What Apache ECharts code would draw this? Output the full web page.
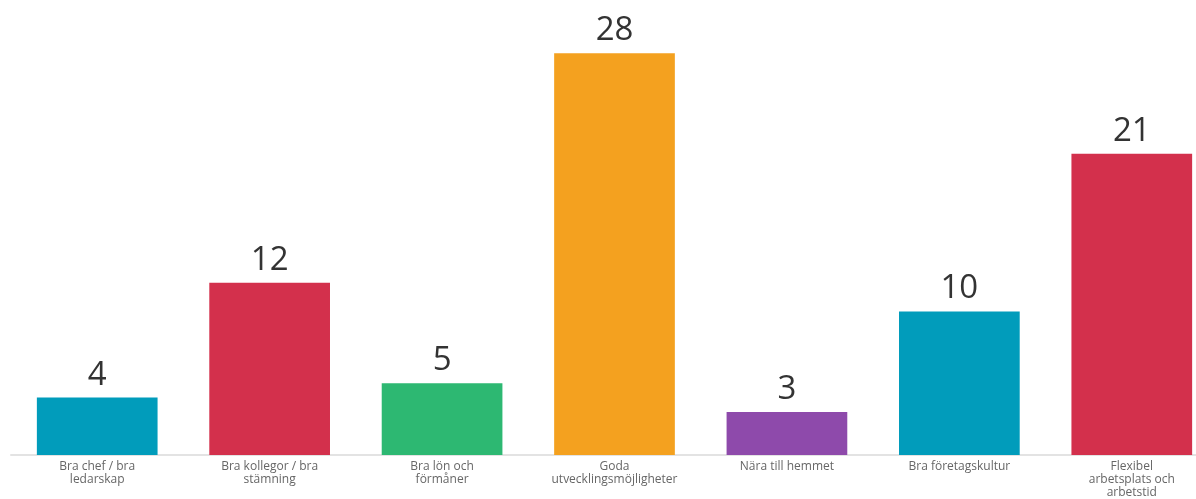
<!DOCTYPE html>
<html><head><meta charset="utf-8">
<script src="https://cdn.jsdelivr.net/npm/echarts@6/dist/echarts.min.js"></script>
<style>html,body{margin:0;padding:0;background:#fff;overflow:hidden}#c{width:1218px;height:499px}</style>
</head><body><div id="c"></div>
<script>
const categories = ["Bra chef / bra\nledarskap","Bra kollegor / bra\nstämning","Bra lön och\nförmåner","Goda\nutvecklingsmöjligheter","Nära till hemmet","Bra företagskultur","Flexibel\narbetsplats och\narbetstid"];
const values = [4,12,5,28,3,10,21];
const barColors = ["#019cbb","#d3304c","#2db872","#f4a11f","#8e4aab","#019cbb","#d3304c"];

const chart = echarts.init(document.getElementById('c'), null, {renderer:'canvas'});
chart.setOption({
  animation:false,
  grid:{left:11, right:0, top:24.5, bottom:44, containLabel:false},
  xAxis:{type:'category', data:categories,
    axisLine:{lineStyle:{color:'#e3e3e3', width:2}},
    axisTick:{show:false},
    axisLabel:{interval:0, color:'#666', fontFamily:'Open Sans', fontSize:12, lineHeight:13, margin:5}},
  yAxis:{type:'value', min:0, max:30, show:false, splitLine:{show:false}},
  series:[{type:'bar', barWidth:'70%',
    data:values.map((v,i)=>({value:v, itemStyle:{color:barColors[i]}})),
    label:{show:true, position:'top', distance:6, color:'#333', fontFamily:'Open Sans', fontSize:33, fontWeight:400}}]
});
</script></body></html>
